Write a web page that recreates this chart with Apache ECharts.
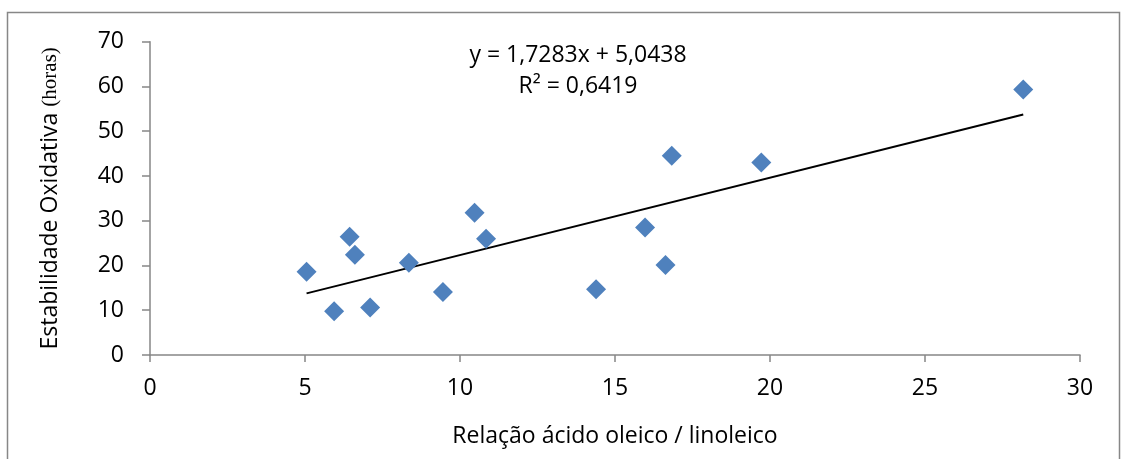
<!DOCTYPE html>
<html lang="pt">
<head>
<meta charset="utf-8">
<title>Estabilidade Oxidativa</title>
<script src="https://cdn.jsdelivr.net/npm/echarts@6/dist/echarts.min.js"></script>
<style>
  html, body { margin: 0; padding: 0; background: #fff; }
  #main { width: 1128px; height: 459px; }
</style>
</head>
<body>
<div id="main"></div>
<script type="text/javascript">
    // razão oleico/linoleico e estabilidade (horas)
    var relacao = [5.05, 5.94, 6.44, 6.61, 7.10, 8.35, 9.45, 10.47, 10.84, 14.39, 15.97, 16.63, 16.83, 19.72, 28.17];
    var estabilidade = [18.6, 9.8, 26.4, 22.4, 10.6, 20.6, 14.1, 31.8, 26.0, 14.7, 28.5, 20.1, 44.5, 43.0, 59.3];
    var xTicks = [0, 5, 10, 15, 20, 25, 30];
    var yTicks = [0, 10, 20, 30, 40, 50, 60, 70];
    var slope = 1.7283, intercept = 5.0438, r2 = '0,6419';

    var pontos = [];
    for (var i = 0; i < relacao.length; i++) {
        pontos.push([relacao[i], estabilidade[i]]);
    }
    var xMin = Math.min.apply(null, relacao);
    var xMax = Math.max.apply(null, relacao);
    var tendencia = [[xMin, slope * xMin + intercept], [xMax, slope * xMax + intercept]];

    var fonte = '"Open Sans", sans-serif';
    var tam = 23;
    var myChart = echarts.init(document.getElementById('main'));

    var option = {
        animation: false,
        backgroundColor: '#fff',
        grid: { left: 150, right: 48, top: 41.7, bottom: 104 },
        graphic: [{
            type: 'rect',
            shape: { x: 7.5, y: 12.5, width: 1112, height: 460 },
            style: { fill: 'none', stroke: '#878787', lineWidth: 1.5 }
        }, {
            type: 'text',
            x: 578, y: 55,
            style: {
                text: 'y = ' + String(slope).replace('.', ',') + 'x + ' + String(intercept).replace('.', ','),
                font: tam + 'px ' + fonte, fill: '#000', align: 'center', verticalAlign: 'middle'
            }
        }, {
            type: 'text',
            x: 578, y: 86,
            style: {
                text: 'R² = ' + r2, font: tam + 'px ' + fonte, fill: '#000',
                align: 'center', verticalAlign: 'middle'
            }
        }],
        xAxis: {
            type: 'value',
            min: xTicks[0], max: xTicks[xTicks.length - 1], interval: 5,
            axisLine: { lineStyle: { color: '#868686', width: 1.5 } },
            axisTick: { show: true, length: 7, lineStyle: { color: '#868686', width: 1.5 } },
            splitLine: { show: false },
            axisLabel: { color: '#000', fontSize: tam, fontFamily: fonte, margin: 22 },
            name: 'Relação ácido oleico / linoleico',
            nameLocation: 'middle', nameGap: 70,
            nameTextStyle: { color: '#000', fontSize: tam, fontFamily: fonte }
        },
        yAxis: {
            type: 'value',
            min: yTicks[0], max: yTicks[yTicks.length - 1], interval: 10,
            axisLine: { show: true, lineStyle: { color: '#868686', width: 1.5 } },
            axisTick: { show: true, length: 8, lineStyle: { color: '#868686', width: 1.5 } },
            splitLine: { show: false },
            axisLabel: { color: '#000', fontSize: tam, fontFamily: fonte, margin: 26 },
            name: '{a|Estabilidade Oxidativa }{b|(horas)}',
            nameLocation: 'middle', nameGap: 88, nameRotate: 90,
            nameTextStyle: {
                rich: {
                    a: { color: '#000', fontSize: tam, fontFamily: fonte },
                    b: { color: '#000', fontSize: 21, fontFamily: '"Liberation Serif", serif' }
                }
            }
        },
        series: [{
            type: 'scatter',
            data: pontos,
            symbol: 'diamond',
            symbolSize: 20,
            itemStyle: { color: '#4F81BD', opacity: 1 },
            z: 3
        }, {
            type: 'line',
            data: tendencia,
            symbol: 'none',
            lineStyle: { color: '#000', width: 2 },
            z: 2
        }]
    };

    myChart.setOption(option);
</script>
</body>
</html>
